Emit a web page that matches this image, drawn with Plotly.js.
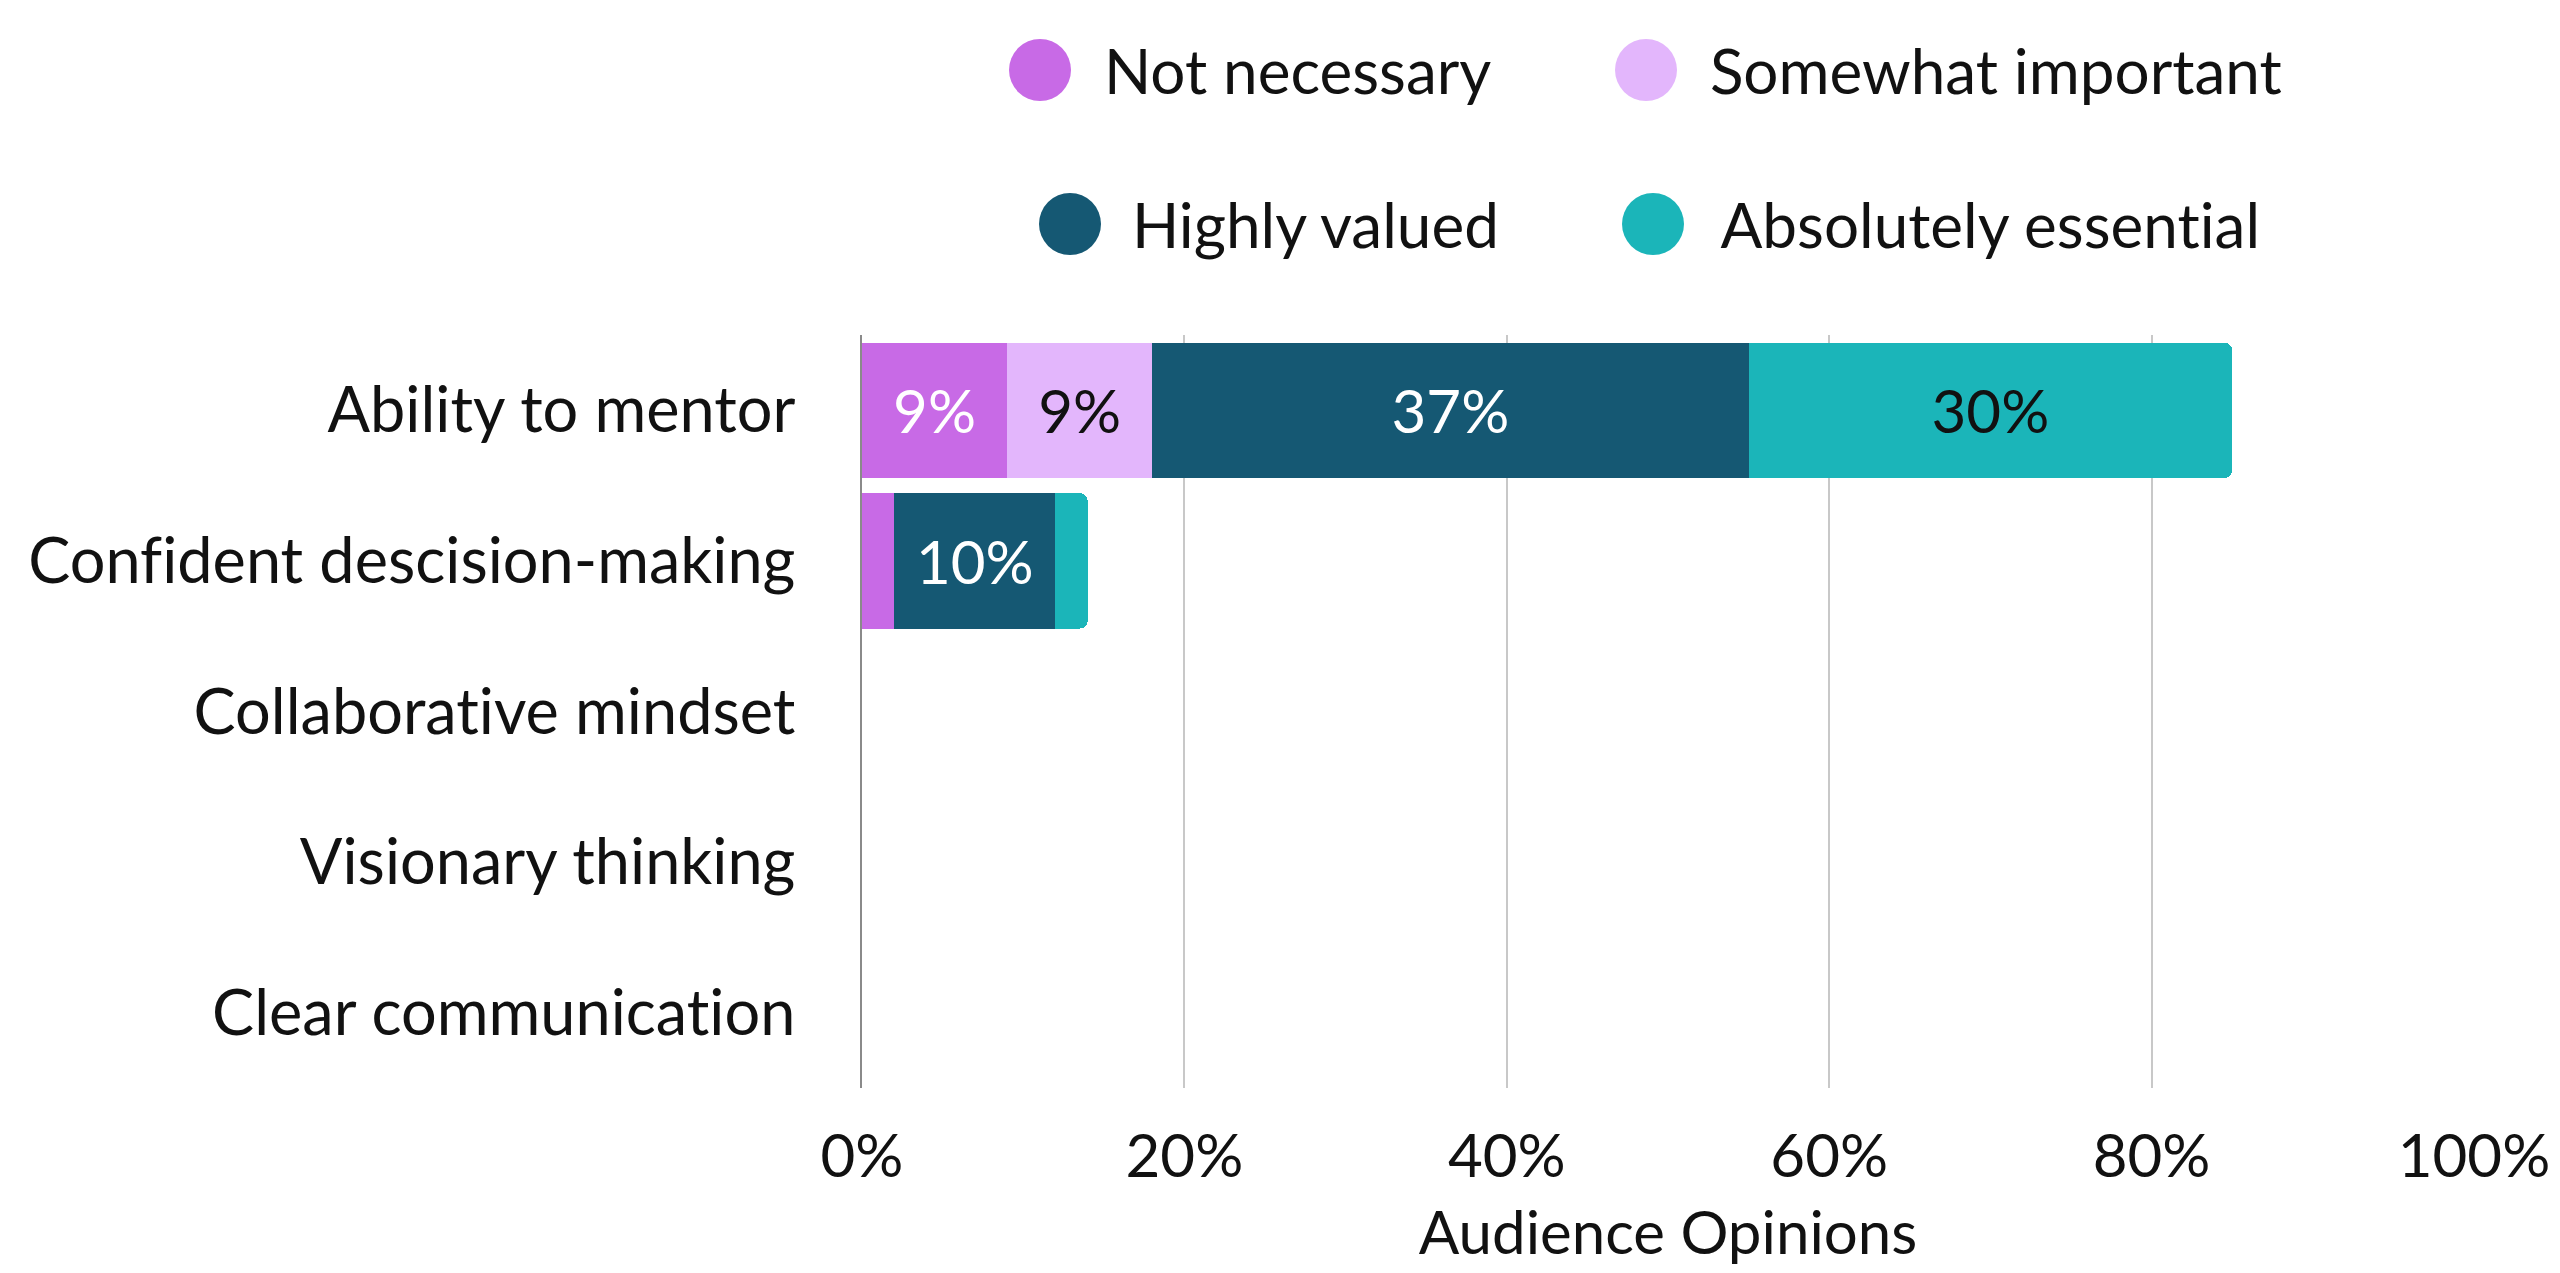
<!DOCTYPE html>
<html>
<head>
<meta charset="utf-8">
<script src="https://cdn.plot.ly/plotly-3.0.1.min.js"></script>
<style>
  html, body { margin: 0; padding: 0; background: #fff; }
  #chart { width: 2560px; height: 1273px; }
  #chart text {
    font-variant-ligatures: none;
    font-feature-settings: "liga" 0, "clig" 0, "dlig" 0;
    letter-spacing: 0.01px;
  }
</style>
</head>
<body>
<div id="chart"></div>
<script>
// data
var skills = ["Ability to mentor", "Confident descision-making", "Collaborative mindset", "Visionary thinking", "Clear communication"];
var seriesNames = ["Not necessary", "Somewhat important", "Highly valued", "Absolutely essential"];
var notNecessary = [9, 2, 0, 0, 0];
var somewhatImportant = [9, 0, 0, 0, 0];
var highlyValued = [37, 10, 0, 0, 0];
var absolutelyEssential = [30, 2, 0, 0, 0];
var xTickVals = [0, 20, 40, 60, 80, 100];
var xTickText = ["0%", "20%", "40%", "60%", "80%", "100%"];

// styles
var seriesColors = ["#c86ae6", "#e3b6fc", "#155873", "#1bb5b9"];
var labelColors = ["#ffffff", "#111111", "#ffffff", "#111111"];
var FONT = "Lato, 'Open Sans', sans-serif";
var FS = 60;

// plot box in pixels
var M = {l: 862, r: 86, t: 335, b: 185};
var PW = 2560 - M.l - M.r, PH = 1273 - M.t - M.b;
function px(x) { return (x - M.l) / PW; }
function py(y) { return (1273 - M.b - y) / PH; }

var allSeries = [notNecessary, somewhatImportant, highlyValued, absolutelyEssential];

var data = allSeries.map(function (vals, i) {
  return {
    type: "bar",
    orientation: "h",
    name: seriesNames[i],
    y: skills,
    x: vals,
    text: vals.map(function (v) { return v >= 5 ? v + "%" : ""; }),
    texttemplate: "%{text}",
    textposition: "inside",
    insidetextanchor: "middle",
    textangle: 0,
    constraintext: "none",
    textfont: {family: FONT, size: FS, color: labelColors[i]},
    marker: {color: seriesColors[i], line: {width: 0}},
    showlegend: false,
    hoverinfo: "skip"
  };
});

// legend: circle + label per series, two rows
var legendSlots = [
  {cx: 1040, tx: 1102, y: 70},
  {cx: 1646, tx: 1708, y: 70},
  {cx: 1070, tx: 1130, y: 224},
  {cx: 1653, tx: 1718, y: 224}
];
var shapes = legendSlots.map(function (s, i) {
  return {
    type: "circle", xref: "paper", yref: "paper",
    xsizemode: "pixel", ysizemode: "pixel",
    xanchor: px(s.cx), yanchor: py(s.y),
    x0: -31, x1: 31, y0: -31, y1: 31,
    fillcolor: seriesColors[i], line: {width: 0}
  };
});
var annotations = legendSlots.map(function (s, i) {
  return {
    xref: "paper", yref: "paper",
    x: px(s.tx), y: py(s.y),
    xanchor: "left", yanchor: "middle",
    text: seriesNames[i], showarrow: false,
    font: {family: FONT, size: 62, color: "#111111"}
  };
});

var layout = {
  width: 2560, height: 1273,
  margin: M,
  paper_bgcolor: "#ffffff", plot_bgcolor: "#ffffff",
  font: {family: FONT, size: FS, color: "#111111"},
  barmode: "stack",
  bargap: 0.1,
  barcornerradius: 8,
  showlegend: false,
  xaxis: {
    range: [0, 100],
    tickvals: xTickVals, ticktext: xTickText,
    showgrid: true, gridcolor: "#c8c8c8", gridwidth: 2,
    zeroline: false, showline: false, ticks: "",
    ticklabelstandoff: 28,
    tickfont: {family: FONT, size: FS, color: "#111111"},
    title: {text: "Audience Opinions", standoff: 22, font: {family: FONT, size: FS, color: "#111111"}},
    fixedrange: true
  },
  yaxis: {
    autorange: "reversed",
    showgrid: false, zeroline: false,
    showline: true, linecolor: "#8a8a8a", linewidth: 2,
    ticks: "", ticklabelstandoff: 52,
    tickfont: {family: FONT, size: 63, color: "#111111"},
    fixedrange: true
  },
  shapes: shapes,
  annotations: annotations
};

Plotly.newPlot("chart", data, layout, {displayModeBar: false, staticPlot: true});
</script>
</body>
</html>
